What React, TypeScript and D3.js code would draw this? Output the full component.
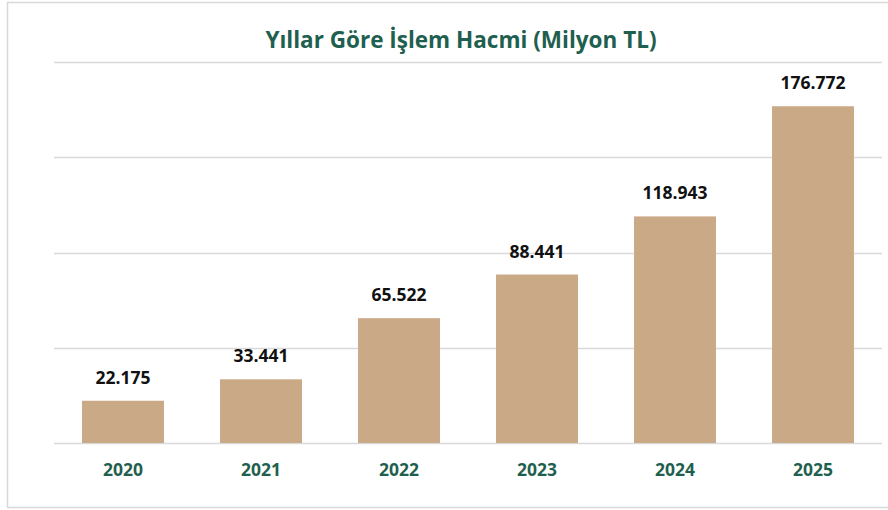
import { useEffect, useRef } from "react";
import * as d3 from "d3";

const years = ["2020", "2021", "2022", "2023", "2024", "2025"];
const volumes = [22175, 33441, 65522, 88441, 118943, 176772];
const gridTicks = [0, 50000, 100000, 150000, 200000];

const fmt = (v: number) => d3.format(",")(v).replace(/,/g, ".");

export default function App() {
  const ref = useRef<SVGSVGElement>(null);

  useEffect(() => {
    const svg = d3.select(ref.current);
    const width = 888;
    const height = 510;
    const margin = { top: 62, right: 6, bottom: 67, left: 54 };

    svg.selectAll("*").remove();
    svg.attr("width", width).attr("height", height);

    const font = "'Open Sans', 'Noto Sans', sans-serif";

    // frame
    svg
      .append("rect")
      .attr("x", 7.5)
      .attr("y", 2.5)
      .attr("width", 900)
      .attr("height", 505)
      .attr("fill", "#fff")
      .attr("stroke", "#d9d9d9")
      .attr("stroke-width", 1.5);

    const x = d3
      .scaleBand()
      .domain(years)
      .range([margin.left, width - margin.right])
      .paddingInner(0.406)
      .paddingOuter(0.203);

    const y = d3
      .scaleLinear()
      .domain([0, 200000])
      .range([height - margin.bottom, margin.top]);

    svg
      .append("g")
      .selectAll("line")
      .data(gridTicks)
      .join("line")
      .attr("x1", margin.left)
      .attr("x2", width - margin.right)
      .attr("y1", (d) => Math.round(y(d)) + 0.5)
      .attr("y2", (d) => Math.round(y(d)) + 0.5)
      .attr("stroke", "#d9d9d9")
      .attr("stroke-width", 1.5);

    svg
      .append("g")
      .selectAll("rect")
      .data(volumes)
      .join("rect")
      .attr("x", (_, i) => x(years[i])!)
      .attr("width", x.bandwidth())
      .attr("y", (d) => y(d))
      .attr("height", (d) => y(0) - y(d))
      .attr("fill", "#caa987");

    svg
      .append("g")
      .selectAll("text")
      .data(volumes)
      .join("text")
      .attr("x", (_, i) => x(years[i])! + x.bandwidth() / 2)
      .attr("y", (d) => y(d) - 17)
      .attr("text-anchor", "middle")
      .attr("fill", "#111")
      .style("font-family", font)
      .style("font-size", "17.5px")
      .style("font-weight", "700")
      .text((d) => fmt(d));

    svg
      .append("g")
      .selectAll("text")
      .data(years)
      .join("text")
      .attr("x", (d) => x(d)! + x.bandwidth() / 2)
      .attr("y", y(0) + 33)
      .attr("text-anchor", "middle")
      .attr("fill", "#1f5f50")
      .style("font-family", font)
      .style("font-size", "17.5px")
      .style("font-weight", "700")
      .text((d) => d);

    svg
      .append("text")
      .attr("x", 461)
      .attr("y", 48)
      .attr("text-anchor", "middle")
      .attr("fill", "#1f5f50")
      .style("font-family", font)
      .style("font-size", "22.5px")
      .style("font-weight", "700")
      .text("Yıllar Göre İşlem Hacmi (Milyon TL)");
  }, []);

  return (
    <svg
      ref={ref}
      style={{ position: "absolute", left: 0, top: 0 }}
      role="img"
      aria-label="Yıllar Göre İşlem Hacmi"
    />
  );
}
